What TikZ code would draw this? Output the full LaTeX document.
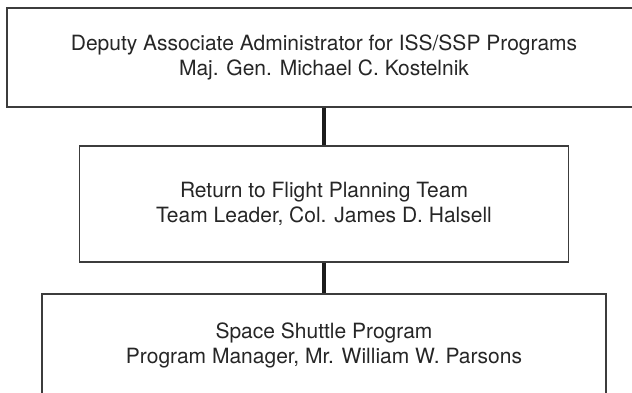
\documentclass[tikz,border=0pt]{standalone}
\usepackage{fontspec}
\setmainfont{TeX Gyre Heros}
\begin{document}
\begin{tikzpicture}[x=1pt, y=-1pt,
    orgbox/.style={draw=borderColour, line width=1.3pt, fill=white, align=center,
        text=textColour, font=\fontsize{21}{25}\selectfont, inner sep=0pt},
    orglink/.style={draw=linkColour, line width=4.5pt}]
    \definecolor{borderColour}{HTML}{3C3C3C}
    \definecolor{linkColour}{HTML}{1C1C1C}
    \definecolor{textColour}{HTML}{262626}

    \def\midX{324}

    % Page frame
    \useasboundingbox (0,0) rectangle (632,393);
    \clip (0,0) rectangle (632,393);

    % Boxes
    \node[orgbox, minimum width=634pt, minimum height=99pt] (deputy) at (\midX,57.5)
        {Deputy Associate Administrator for ISS/SSP Programs\\Maj. Gen. Michael C. Kostelnik};
    \node[orgbox, minimum width=489pt, minimum height=116pt] (team) at (\midX,204)
        {Return to Flight Planning Team\\Team Leader, Col. James D. Halsell};
    \node[orgbox, minimum width=564pt, minimum height=102pt] (shuttle) at (\midX,345)
        {Space Shuttle Program\\Program Manager, Mr. William W. Parsons};

    % Connectors
    \draw[orglink] (deputy.south) -- (team.north);
    \draw[orglink] (team.south) -- (shuttle.north);

\end{tikzpicture}
\end{document}
